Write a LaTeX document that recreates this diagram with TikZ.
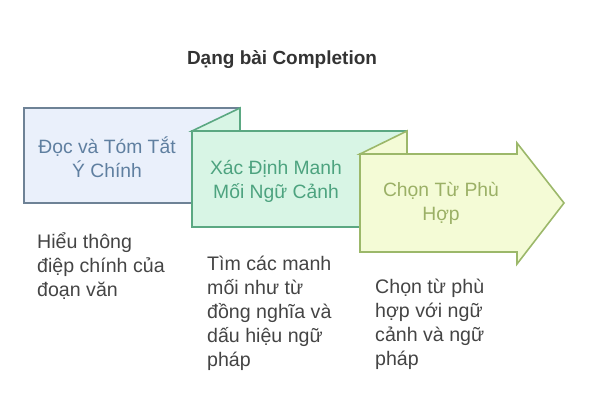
\documentclass[tikz,border=0pt]{standalone}
\usepackage{fontspec}
\setmainfont{Liberation Sans}
\usetikzlibrary{positioning}
\definecolor{blueFill}{HTML}{EAF0FB}
\definecolor{blueLine}{HTML}{6E8296}
\definecolor{blueText}{HTML}{5F7FA0}
\definecolor{greenFill}{HTML}{D8F5E5}
\definecolor{greenLine}{HTML}{5BA882}
\definecolor{greenText}{HTML}{4DA37F}
\definecolor{limeFill}{HTML}{F4FBD6}
\definecolor{limeLine}{HTML}{9CB86A}
\definecolor{limeText}{HTML}{9BB066}
\definecolor{descText}{HTML}{444444}

\begin{document}
\begin{tikzpicture} [x=1pt,y=-1pt,{step1/.style={draw=blueLine,fill=blueFill,line width=1.6pt,line join=miter}},{step2/.style={draw=greenLine,fill=greenFill,line width=1.6pt,line join=miter}},{step3/.style={draw=limeLine,fill=limeFill,line width=1.6pt,line join=miter}},{boxtxt/.style={align=center,inner sep=0pt,font=\fontsize{19.3}{24}\selectfont}},{desctxt/.style={align=left,inner sep=0pt,anchor=north west,text=descText,font=\fontsize{19.6}{24}\selectfont}}]
	\useasboundingbox (0,0) rectangle (589,420);
	%%corners of the three steps
	\coordinate (A1) at (24,108);
	\coordinate (C1) at (240,203);
	\coordinate (A2) at (192,131);
	\coordinate (C2) at (407,227);
	\coordinate (A3) at (360,154);
	%%title
	\node [font=\bfseries\fontsize{19}{22}\selectfont,text=black!80] (title) at (282,60) {Dạng bài Completion};
	%%step 1
	\draw [step1] (A1) rectangle (C1);
	%%step 2 with its flap
	\draw [step2] (A2) -- (240,108) -- (240,131) -- cycle;
	\draw [step2] (A2) rectangle (C2);
	%%step 3, the arrow, with its flap
	\draw [step3] (A3) -- (407,131) -- (407,154) -- cycle;
	\draw [step3] (A3) -- (517,154) -- (517,143) -- (564,203) -- (517,264) -- (517,252) -- (360,252) -- cycle;
	%%labels
	\node [boxtxt,text=blueText] (lab1) at (107,157) {Đọc và Tóm Tắt\\Ý Chính};
	\node [boxtxt,text=greenText] (lab2) at (276,181) {Xác Định Manh\\Mối Ngữ Cảnh};
	\node [boxtxt,text=limeText] (lab3) at (441,203) {Chọn Từ Phù\\Hợp};
	%%descriptions
	\node [desctxt] (desc1) at (37,232) {Hiểu thông\\điệp chính của\\đoạn văn};
	\node [desctxt] (desc2) at (207,256) {Tìm các manh\\mối như từ\\đồng nghĩa và\\dấu hiệu ngữ\\pháp};
	\node [desctxt] (desc3) at (375,279) {Chọn từ phù\\hợp với ngữ\\cảnh và ngữ\\pháp};
\end{tikzpicture}
\end{document}
